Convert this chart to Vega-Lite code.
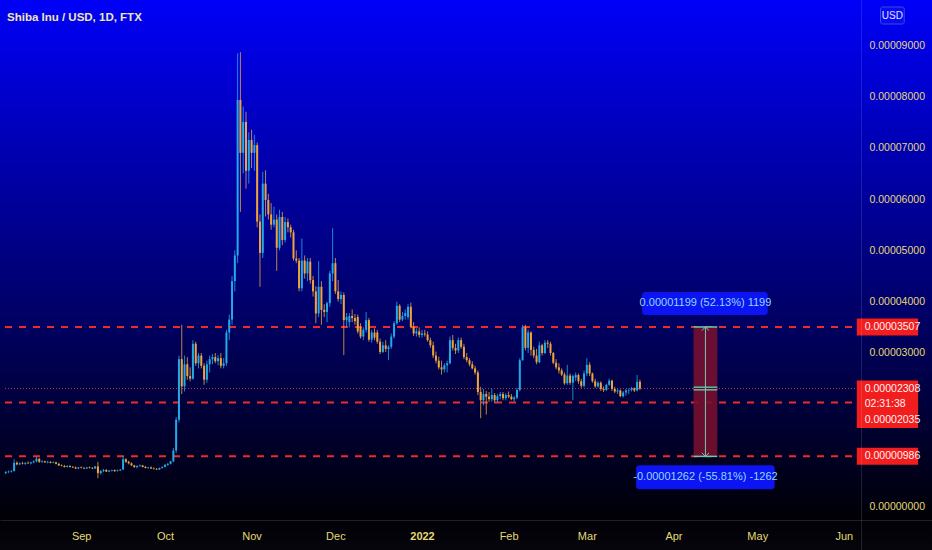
{
"$schema":"https://vega.github.io/schema/vega-lite/v6.json",
"width":932,"height":550,"autosize":{"type":"none"},"padding":0,"background":"#000000",
"title":{"text":"Shiba Inu / USD, 1D, FTX","anchor":"start","frame":"group","offset":-23,"dx":7,"color":"#eee6b5","fontSize":11.5,"fontWeight":"bold","font":"Liberation Sans"},
"config":{"view":{"stroke":null},"font":"Liberation Sans","text":{"font":"Liberation Sans"}},
"datasets":{
"levels":[{"price":0.00003507},{"price":0.00002035},{"price":0.00000986}],
"current":[{"price":0.00002308}],
"tags":[{"price":0.00003507,"label":"0.00003507"},{"price":0.00000986,"label":"0.00000986"}],
"lastTag":[{"price":0.00002308,"level":0.00002035,"label":"0.00002308\n02:31:38\n0.00002035"}],
"measure":[{"start":"2022-04-08T05:00:00Z","end":"2022-04-16T17:00:00Z","mid":"2022-04-12T11:00:00Z","entry":0.00002308,"target":0.00003507,"stop":0.00000986,"upLabel":"0.00001199 (52.13%) 1199","downLabel":"-0.00001262 (-55.81%) -1262"}],
"candles":[
{"date":"2021-08-05","open":0.66e-5,"high":0.70e-5,"low":0.64e-5,"close":0.68e-5},
{"date":"2021-08-06","open":0.68e-5,"high":0.71e-5,"low":0.66e-5,"close":0.69e-5},
{"date":"2021-08-07","open":0.69e-5,"high":0.72e-5,"low":0.67e-5,"close":0.70e-5},
{"date":"2021-08-08","open":0.70e-5,"high":0.93e-5,"low":0.69e-5,"close":0.86e-5},
{"date":"2021-08-09","open":0.86e-5,"high":0.89e-5,"low":0.81e-5,"close":0.83e-5},
{"date":"2021-08-10","open":0.83e-5,"high":0.87e-5,"low":0.82e-5,"close":0.85e-5},
{"date":"2021-08-11","open":0.85e-5,"high":0.88e-5,"low":0.83e-5,"close":0.84e-5},
{"date":"2021-08-12","open":0.84e-5,"high":0.87e-5,"low":0.82e-5,"close":0.86e-5},
{"date":"2021-08-13","open":0.86e-5,"high":0.89e-5,"low":0.84e-5,"close":0.85e-5},
{"date":"2021-08-14","open":0.85e-5,"high":0.88e-5,"low":0.83e-5,"close":0.87e-5},
{"date":"2021-08-15","open":0.87e-5,"high":0.91e-5,"low":0.85e-5,"close":0.89e-5},
{"date":"2021-08-16","open":0.89e-5,"high":0.98e-5,"low":0.87e-5,"close":0.94e-5},
{"date":"2021-08-17","open":0.94e-5,"high":0.95e-5,"low":0.86e-5,"close":0.88e-5},
{"date":"2021-08-18","open":0.88e-5,"high":0.91e-5,"low":0.86e-5,"close":0.89e-5},
{"date":"2021-08-19","open":0.89e-5,"high":0.90e-5,"low":0.86e-5,"close":0.87e-5},
{"date":"2021-08-20","open":0.87e-5,"high":0.90e-5,"low":0.85e-5,"close":0.88e-5},
{"date":"2021-08-21","open":0.88e-5,"high":0.89e-5,"low":0.85e-5,"close":0.86e-5},
{"date":"2021-08-22","open":0.86e-5,"high":0.89e-5,"low":0.85e-5,"close":0.87e-5},
{"date":"2021-08-23","open":0.87e-5,"high":0.88e-5,"low":0.83e-5,"close":0.84e-5},
{"date":"2021-08-24","open":0.84e-5,"high":0.86e-5,"low":0.80e-5,"close":0.81e-5},
{"date":"2021-08-25","open":0.81e-5,"high":0.83e-5,"low":0.79e-5,"close":0.80e-5},
{"date":"2021-08-26","open":0.80e-5,"high":0.82e-5,"low":0.77e-5,"close":0.78e-5},
{"date":"2021-08-27","open":0.78e-5,"high":0.81e-5,"low":0.77e-5,"close":0.80e-5},
{"date":"2021-08-28","open":0.80e-5,"high":0.81e-5,"low":0.77e-5,"close":0.78e-5},
{"date":"2021-08-29","open":0.78e-5,"high":0.80e-5,"low":0.76e-5,"close":0.77e-5},
{"date":"2021-08-30","open":0.77e-5,"high":0.79e-5,"low":0.74e-5,"close":0.75e-5},
{"date":"2021-08-31","open":0.75e-5,"high":0.78e-5,"low":0.74e-5,"close":0.77e-5},
{"date":"2021-09-01","open":0.77e-5,"high":0.79e-5,"low":0.75e-5,"close":0.76e-5},
{"date":"2021-09-02","open":0.76e-5,"high":0.78e-5,"low":0.74e-5,"close":0.75e-5},
{"date":"2021-09-03","open":0.75e-5,"high":0.78e-5,"low":0.74e-5,"close":0.77e-5},
{"date":"2021-09-04","open":0.77e-5,"high":0.79e-5,"low":0.75e-5,"close":0.76e-5},
{"date":"2021-09-05","open":0.76e-5,"high":0.78e-5,"low":0.74e-5,"close":0.75e-5},
{"date":"2021-09-06","open":0.75e-5,"high":0.80e-5,"low":0.74e-5,"close":0.79e-5},
{"date":"2021-09-07","open":0.79e-5,"high":0.88e-5,"low":0.56e-5,"close":0.66e-5},
{"date":"2021-09-08","open":0.66e-5,"high":0.72e-5,"low":0.63e-5,"close":0.70e-5},
{"date":"2021-09-09","open":0.70e-5,"high":0.74e-5,"low":0.68e-5,"close":0.72e-5},
{"date":"2021-09-10","open":0.72e-5,"high":0.74e-5,"low":0.68e-5,"close":0.69e-5},
{"date":"2021-09-11","open":0.69e-5,"high":0.72e-5,"low":0.68e-5,"close":0.71e-5},
{"date":"2021-09-12","open":0.71e-5,"high":0.73e-5,"low":0.69e-5,"close":0.72e-5},
{"date":"2021-09-13","open":0.72e-5,"high":0.73e-5,"low":0.68e-5,"close":0.70e-5},
{"date":"2021-09-14","open":0.70e-5,"high":0.73e-5,"low":0.69e-5,"close":0.71e-5},
{"date":"2021-09-15","open":0.71e-5,"high":0.74e-5,"low":0.70e-5,"close":0.73e-5},
{"date":"2021-09-16","open":0.73e-5,"high":1.00e-5,"low":0.72e-5,"close":0.93e-5},
{"date":"2021-09-17","open":0.93e-5,"high":0.95e-5,"low":0.86e-5,"close":0.88e-5},
{"date":"2021-09-18","open":0.88e-5,"high":0.90e-5,"low":0.83e-5,"close":0.85e-5},
{"date":"2021-09-19","open":0.85e-5,"high":0.87e-5,"low":0.80e-5,"close":0.81e-5},
{"date":"2021-09-20","open":0.81e-5,"high":0.82e-5,"low":0.76e-5,"close":0.78e-5},
{"date":"2021-09-21","open":0.78e-5,"high":0.81e-5,"low":0.75e-5,"close":0.80e-5},
{"date":"2021-09-22","open":0.80e-5,"high":0.83e-5,"low":0.78e-5,"close":0.81e-5},
{"date":"2021-09-23","open":0.81e-5,"high":0.82e-5,"low":0.77e-5,"close":0.78e-5},
{"date":"2021-09-24","open":0.78e-5,"high":0.80e-5,"low":0.75e-5,"close":0.76e-5},
{"date":"2021-09-25","open":0.76e-5,"high":0.78e-5,"low":0.74e-5,"close":0.77e-5},
{"date":"2021-09-26","open":0.77e-5,"high":0.79e-5,"low":0.74e-5,"close":0.75e-5},
{"date":"2021-09-27","open":0.75e-5,"high":0.77e-5,"low":0.73e-5,"close":0.74e-5},
{"date":"2021-09-28","open":0.74e-5,"high":0.76e-5,"low":0.72e-5,"close":0.73e-5},
{"date":"2021-09-29","open":0.73e-5,"high":0.77e-5,"low":0.72e-5,"close":0.76e-5},
{"date":"2021-09-30","open":0.76e-5,"high":0.79e-5,"low":0.75e-5,"close":0.78e-5},
{"date":"2021-10-01","open":0.78e-5,"high":0.84e-5,"low":0.77e-5,"close":0.82e-5},
{"date":"2021-10-02","open":0.82e-5,"high":0.86e-5,"low":0.80e-5,"close":0.84e-5},
{"date":"2021-10-03","open":0.84e-5,"high":0.90e-5,"low":0.83e-5,"close":0.89e-5},
{"date":"2021-10-04","open":0.89e-5,"high":1.15e-5,"low":0.87e-5,"close":1.10e-5},
{"date":"2021-10-05","open":1.10e-5,"high":1.75e-5,"low":1.05e-5,"close":1.70e-5},
{"date":"2021-10-06","open":1.70e-5,"high":2.95e-5,"low":1.65e-5,"close":2.88e-5},
{"date":"2021-10-07","open":2.88e-5,"high":3.55e-5,"low":2.20e-5,"close":2.35e-5},
{"date":"2021-10-08","open":2.35e-5,"high":2.95e-5,"low":2.25e-5,"close":2.78e-5},
{"date":"2021-10-09","open":2.78e-5,"high":2.92e-5,"low":2.48e-5,"close":2.55e-5},
{"date":"2021-10-10","open":2.55e-5,"high":2.72e-5,"low":2.45e-5,"close":2.50e-5},
{"date":"2021-10-11","open":2.50e-5,"high":3.25e-5,"low":2.48e-5,"close":3.18e-5},
{"date":"2021-10-12","open":3.18e-5,"high":3.22e-5,"low":2.75e-5,"close":2.80e-5},
{"date":"2021-10-13","open":2.80e-5,"high":3.00e-5,"low":2.70e-5,"close":2.95e-5},
{"date":"2021-10-14","open":2.95e-5,"high":3.00e-5,"low":2.70e-5,"close":2.75e-5},
{"date":"2021-10-15","open":2.75e-5,"high":2.80e-5,"low":2.38e-5,"close":2.48e-5},
{"date":"2021-10-16","open":2.48e-5,"high":2.85e-5,"low":2.42e-5,"close":2.78e-5},
{"date":"2021-10-17","open":2.78e-5,"high":2.95e-5,"low":2.62e-5,"close":2.88e-5},
{"date":"2021-10-18","open":2.88e-5,"high":2.98e-5,"low":2.78e-5,"close":2.92e-5},
{"date":"2021-10-19","open":2.92e-5,"high":3.00e-5,"low":2.80e-5,"close":2.84e-5},
{"date":"2021-10-20","open":2.84e-5,"high":2.96e-5,"low":2.76e-5,"close":2.90e-5},
{"date":"2021-10-21","open":2.90e-5,"high":3.00e-5,"low":2.70e-5,"close":2.75e-5},
{"date":"2021-10-22","open":2.75e-5,"high":2.90e-5,"low":2.70e-5,"close":2.80e-5},
{"date":"2021-10-23","open":2.80e-5,"high":3.45e-5,"low":2.75e-5,"close":3.40e-5},
{"date":"2021-10-24","open":3.40e-5,"high":3.75e-5,"low":3.25e-5,"close":3.65e-5},
{"date":"2021-10-25","open":3.65e-5,"high":4.50e-5,"low":3.55e-5,"close":4.40e-5},
{"date":"2021-10-26","open":4.40e-5,"high":5.00e-5,"low":4.20e-5,"close":4.90e-5},
{"date":"2021-10-27","open":4.90e-5,"high":8.84e-5,"low":4.75e-5,"close":7.93e-5},
{"date":"2021-10-28","open":7.93e-5,"high":8.86e-5,"low":5.75e-5,"close":6.90e-5},
{"date":"2021-10-29","open":6.90e-5,"high":7.80e-5,"low":6.50e-5,"close":7.50e-5},
{"date":"2021-10-30","open":7.50e-5,"high":7.70e-5,"low":6.20e-5,"close":6.55e-5},
{"date":"2021-10-31","open":6.55e-5,"high":7.30e-5,"low":6.30e-5,"close":7.15e-5},
{"date":"2021-11-01","open":7.15e-5,"high":7.35e-5,"low":6.60e-5,"close":6.90e-5},
{"date":"2021-11-02","open":6.90e-5,"high":7.25e-5,"low":6.55e-5,"close":7.05e-5},
{"date":"2021-11-03","open":7.05e-5,"high":7.10e-5,"low":5.45e-5,"close":5.56e-5},
{"date":"2021-11-04","open":5.56e-5,"high":5.70e-5,"low":4.29e-5,"close":4.95e-5},
{"date":"2021-11-05","open":4.95e-5,"high":6.53e-5,"low":4.85e-5,"close":6.30e-5},
{"date":"2021-11-06","open":6.30e-5,"high":6.56e-5,"low":5.66e-5,"close":5.98e-5},
{"date":"2021-11-07","open":5.98e-5,"high":6.10e-5,"low":5.60e-5,"close":5.70e-5},
{"date":"2021-11-08","open":5.70e-5,"high":5.92e-5,"low":5.40e-5,"close":5.50e-5},
{"date":"2021-11-09","open":5.50e-5,"high":5.85e-5,"low":5.45e-5,"close":5.60e-5},
{"date":"2021-11-10","open":5.60e-5,"high":5.70e-5,"low":4.60e-5,"close":5.05e-5},
{"date":"2021-11-11","open":5.05e-5,"high":5.79e-5,"low":5.00e-5,"close":5.65e-5},
{"date":"2021-11-12","open":5.65e-5,"high":5.75e-5,"low":5.10e-5,"close":5.20e-5},
{"date":"2021-11-13","open":5.20e-5,"high":5.65e-5,"low":5.15e-5,"close":5.55e-5},
{"date":"2021-11-14","open":5.55e-5,"high":5.62e-5,"low":5.35e-5,"close":5.45e-5},
{"date":"2021-11-15","open":5.45e-5,"high":5.50e-5,"low":5.25e-5,"close":5.35e-5},
{"date":"2021-11-16","open":5.35e-5,"high":5.40e-5,"low":4.80e-5,"close":4.84e-5},
{"date":"2021-11-17","open":4.84e-5,"high":5.00e-5,"low":4.75e-5,"close":4.80e-5},
{"date":"2021-11-18","open":4.80e-5,"high":4.85e-5,"low":4.20e-5,"close":4.26e-5},
{"date":"2021-11-19","open":4.26e-5,"high":5.23e-5,"low":4.20e-5,"close":4.80e-5},
{"date":"2021-11-20","open":4.80e-5,"high":4.90e-5,"low":4.45e-5,"close":4.55e-5},
{"date":"2021-11-21","open":4.55e-5,"high":4.85e-5,"low":4.40e-5,"close":4.78e-5},
{"date":"2021-11-22","open":4.78e-5,"high":4.85e-5,"low":4.35e-5,"close":4.42e-5},
{"date":"2021-11-23","open":4.42e-5,"high":4.50e-5,"low":4.10e-5,"close":4.20e-5},
{"date":"2021-11-24","open":4.20e-5,"high":4.30e-5,"low":3.58e-5,"close":3.77e-5},
{"date":"2021-11-25","open":3.77e-5,"high":4.79e-5,"low":3.70e-5,"close":4.29e-5},
{"date":"2021-11-26","open":4.29e-5,"high":4.40e-5,"low":3.55e-5,"close":3.84e-5},
{"date":"2021-11-27","open":3.84e-5,"high":3.95e-5,"low":3.70e-5,"close":3.80e-5},
{"date":"2021-11-28","open":3.80e-5,"high":4.00e-5,"low":3.60e-5,"close":3.97e-5},
{"date":"2021-11-29","open":3.97e-5,"high":4.60e-5,"low":3.90e-5,"close":4.55e-5},
{"date":"2021-11-30","open":4.55e-5,"high":5.43e-5,"low":4.40e-5,"close":4.75e-5},
{"date":"2021-12-01","open":4.75e-5,"high":4.85e-5,"low":4.15e-5,"close":4.20e-5},
{"date":"2021-12-02","open":4.20e-5,"high":4.42e-5,"low":4.00e-5,"close":4.05e-5},
{"date":"2021-12-03","open":4.05e-5,"high":4.20e-5,"low":3.95e-5,"close":4.13e-5},
{"date":"2021-12-04","open":4.13e-5,"high":4.18e-5,"low":2.96e-5,"close":3.64e-5},
{"date":"2021-12-05","open":3.64e-5,"high":3.78e-5,"low":3.50e-5,"close":3.70e-5},
{"date":"2021-12-06","open":3.60e-5,"high":3.78e-5,"low":3.50e-5,"close":3.72e-5},
{"date":"2021-12-07","open":3.72e-5,"high":3.85e-5,"low":3.60e-5,"close":3.68e-5},
{"date":"2021-12-08","open":3.68e-5,"high":3.76e-5,"low":3.55e-5,"close":3.62e-5},
{"date":"2021-12-09","open":3.70e-5,"high":3.75e-5,"low":3.38e-5,"close":3.42e-5},
{"date":"2021-12-10","open":3.50e-5,"high":3.58e-5,"low":3.28e-5,"close":3.32e-5},
{"date":"2021-12-11","open":3.32e-5,"high":3.50e-5,"low":3.25e-5,"close":3.45e-5},
{"date":"2021-12-12","open":3.45e-5,"high":3.80e-5,"low":3.40e-5,"close":3.64e-5},
{"date":"2021-12-13","open":3.64e-5,"high":3.68e-5,"low":3.22e-5,"close":3.26e-5},
{"date":"2021-12-14","open":3.26e-5,"high":3.45e-5,"low":3.20e-5,"close":3.40e-5},
{"date":"2021-12-15","open":3.40e-5,"high":3.48e-5,"low":3.25e-5,"close":3.30e-5},
{"date":"2021-12-16","open":3.40e-5,"high":3.45e-5,"low":3.18e-5,"close":3.22e-5},
{"date":"2021-12-17","open":3.22e-5,"high":3.28e-5,"low":2.98e-5,"close":3.02e-5},
{"date":"2021-12-18","open":3.02e-5,"high":3.22e-5,"low":3.00e-5,"close":3.15e-5},
{"date":"2021-12-19","open":3.15e-5,"high":3.25e-5,"low":3.02e-5,"close":3.08e-5},
{"date":"2021-12-20","open":3.08e-5,"high":3.15e-5,"low":2.86e-5,"close":3.12e-5},
{"date":"2021-12-21","open":3.12e-5,"high":3.38e-5,"low":3.08e-5,"close":3.32e-5},
{"date":"2021-12-22","open":3.32e-5,"high":3.62e-5,"low":3.28e-5,"close":3.58e-5},
{"date":"2021-12-23","open":3.58e-5,"high":4.00e-5,"low":3.55e-5,"close":3.92e-5},
{"date":"2021-12-24","open":3.92e-5,"high":3.95e-5,"low":3.60e-5,"close":3.65e-5},
{"date":"2021-12-25","open":3.65e-5,"high":3.80e-5,"low":3.62e-5,"close":3.72e-5},
{"date":"2021-12-26","open":3.72e-5,"high":3.85e-5,"low":3.65e-5,"close":3.78e-5},
{"date":"2021-12-27","open":3.70e-5,"high":3.95e-5,"low":3.65e-5,"close":3.90e-5},
{"date":"2021-12-28","open":3.90e-5,"high":3.98e-5,"low":3.48e-5,"close":3.51e-5},
{"date":"2021-12-29","open":3.51e-5,"high":3.60e-5,"low":3.33e-5,"close":3.38e-5},
{"date":"2021-12-30","open":3.38e-5,"high":3.48e-5,"low":3.32e-5,"close":3.42e-5},
{"date":"2021-12-31","open":3.42e-5,"high":3.50e-5,"low":3.30e-5,"close":3.35e-5},
{"date":"2022-01-01","open":3.35e-5,"high":3.45e-5,"low":3.30e-5,"close":3.38e-5},
{"date":"2022-01-02","open":3.38e-5,"high":3.45e-5,"low":3.32e-5,"close":3.36e-5},
{"date":"2022-01-03","open":3.36e-5,"high":3.42e-5,"low":3.22e-5,"close":3.25e-5},
{"date":"2022-01-04","open":3.25e-5,"high":3.30e-5,"low":3.10e-5,"close":3.15e-5},
{"date":"2022-01-05","open":3.15e-5,"high":3.22e-5,"low":2.90e-5,"close":2.95e-5},
{"date":"2022-01-06","open":2.95e-5,"high":3.03e-5,"low":2.80e-5,"close":2.85e-5},
{"date":"2022-01-07","open":2.85e-5,"high":2.93e-5,"low":2.68e-5,"close":2.72e-5},
{"date":"2022-01-08","open":2.72e-5,"high":2.85e-5,"low":2.58e-5,"close":2.68e-5},
{"date":"2022-01-09","open":2.68e-5,"high":2.80e-5,"low":2.62e-5,"close":2.76e-5},
{"date":"2022-01-10","open":2.76e-5,"high":2.85e-5,"low":2.62e-5,"close":2.80e-5},
{"date":"2022-01-11","open":2.80e-5,"high":3.32e-5,"low":2.78e-5,"close":3.25e-5},
{"date":"2022-01-12","open":3.25e-5,"high":3.35e-5,"low":3.05e-5,"close":3.10e-5},
{"date":"2022-01-13","open":3.10e-5,"high":3.18e-5,"low":2.98e-5,"close":3.05e-5},
{"date":"2022-01-14","open":3.05e-5,"high":3.30e-5,"low":3.00e-5,"close":3.25e-5},
{"date":"2022-01-15","open":3.25e-5,"high":3.30e-5,"low":3.08e-5,"close":3.12e-5},
{"date":"2022-01-16","open":3.12e-5,"high":3.18e-5,"low":2.88e-5,"close":2.92e-5},
{"date":"2022-01-17","open":2.92e-5,"high":3.00e-5,"low":2.82e-5,"close":2.86e-5},
{"date":"2022-01-18","open":2.86e-5,"high":2.90e-5,"low":2.74e-5,"close":2.78e-5},
{"date":"2022-01-19","open":2.78e-5,"high":2.84e-5,"low":2.68e-5,"close":2.70e-5},
{"date":"2022-01-20","open":2.70e-5,"high":2.75e-5,"low":2.58e-5,"close":2.62e-5},
{"date":"2022-01-21","open":2.62e-5,"high":2.66e-5,"low":2.18e-5,"close":2.24e-5},
{"date":"2022-01-22","open":2.24e-5,"high":2.34e-5,"low":1.73e-5,"close":2.08e-5},
{"date":"2022-01-23","open":2.08e-5,"high":2.30e-5,"low":1.98e-5,"close":2.20e-5},
{"date":"2022-01-24","open":2.20e-5,"high":2.26e-5,"low":1.80e-5,"close":2.15e-5},
{"date":"2022-01-25","open":2.15e-5,"high":2.24e-5,"low":2.05e-5,"close":2.10e-5},
{"date":"2022-01-26","open":2.10e-5,"high":2.30e-5,"low":2.05e-5,"close":2.18e-5},
{"date":"2022-01-27","open":2.18e-5,"high":2.22e-5,"low":2.02e-5,"close":2.08e-5},
{"date":"2022-01-28","open":2.08e-5,"high":2.20e-5,"low":2.03e-5,"close":2.16e-5},
{"date":"2022-01-29","open":2.16e-5,"high":2.24e-5,"low":2.10e-5,"close":2.20e-5},
{"date":"2022-01-30","open":2.20e-5,"high":2.24e-5,"low":2.08e-5,"close":2.12e-5},
{"date":"2022-01-31","open":2.12e-5,"high":2.22e-5,"low":2.08e-5,"close":2.18e-5},
{"date":"2022-02-01","open":2.18e-5,"high":2.25e-5,"low":2.12e-5,"close":2.15e-5},
{"date":"2022-02-02","open":2.15e-5,"high":2.20e-5,"low":2.08e-5,"close":2.10e-5},
{"date":"2022-02-03","open":2.10e-5,"high":2.16e-5,"low":2.05e-5,"close":2.13e-5},
{"date":"2022-02-04","open":2.13e-5,"high":2.32e-5,"low":2.10e-5,"close":2.28e-5},
{"date":"2022-02-05","open":2.28e-5,"high":2.90e-5,"low":2.25e-5,"close":2.86e-5},
{"date":"2022-02-06","open":2.86e-5,"high":3.55e-5,"low":2.85e-5,"close":3.50e-5},
{"date":"2022-02-07","open":3.50e-5,"high":3.55e-5,"low":3.05e-5,"close":3.10e-5},
{"date":"2022-02-08","open":3.10e-5,"high":3.45e-5,"low":3.00e-5,"close":3.40e-5},
{"date":"2022-02-09","open":3.40e-5,"high":3.42e-5,"low":2.95e-5,"close":3.06e-5},
{"date":"2022-02-10","open":3.06e-5,"high":3.12e-5,"low":2.90e-5,"close":2.95e-5},
{"date":"2022-02-11","open":2.95e-5,"high":3.08e-5,"low":2.78e-5,"close":2.82e-5},
{"date":"2022-02-12","open":2.82e-5,"high":3.22e-5,"low":2.80e-5,"close":3.15e-5},
{"date":"2022-02-13","open":3.15e-5,"high":3.18e-5,"low":2.95e-5,"close":3.00e-5},
{"date":"2022-02-14","open":3.00e-5,"high":3.25e-5,"low":2.98e-5,"close":3.20e-5},
{"date":"2022-02-15","open":3.20e-5,"high":3.25e-5,"low":3.10e-5,"close":3.18e-5},
{"date":"2022-02-16","open":3.18e-5,"high":3.22e-5,"low":2.95e-5,"close":3.00e-5},
{"date":"2022-02-17","open":3.00e-5,"high":3.02e-5,"low":2.78e-5,"close":2.81e-5},
{"date":"2022-02-18","open":2.81e-5,"high":2.88e-5,"low":2.68e-5,"close":2.72e-5},
{"date":"2022-02-19","open":2.72e-5,"high":2.80e-5,"low":2.60e-5,"close":2.66e-5},
{"date":"2022-02-20","open":2.66e-5,"high":2.70e-5,"low":2.55e-5,"close":2.58e-5},
{"date":"2022-02-21","open":2.58e-5,"high":2.62e-5,"low":2.38e-5,"close":2.41e-5},
{"date":"2022-02-22","open":2.41e-5,"high":2.77e-5,"low":2.38e-5,"close":2.56e-5},
{"date":"2022-02-23","open":2.56e-5,"high":2.60e-5,"low":2.38e-5,"close":2.42e-5},
{"date":"2022-02-24","open":2.42e-5,"high":2.58e-5,"low":2.08e-5,"close":2.55e-5},
{"date":"2022-02-25","open":2.52e-5,"high":2.62e-5,"low":2.45e-5,"close":2.57e-5},
{"date":"2022-02-26","open":2.57e-5,"high":2.60e-5,"low":2.40e-5,"close":2.45e-5},
{"date":"2022-02-27","open":2.45e-5,"high":2.50e-5,"low":2.32e-5,"close":2.36e-5},
{"date":"2022-02-28","open":2.36e-5,"high":2.66e-5,"low":2.33e-5,"close":2.60e-5},
{"date":"2022-03-01","open":2.60e-5,"high":2.90e-5,"low":2.55e-5,"close":2.77e-5},
{"date":"2022-03-02","open":2.77e-5,"high":2.82e-5,"low":2.55e-5,"close":2.60e-5},
{"date":"2022-03-03","open":2.60e-5,"high":2.62e-5,"low":2.42e-5,"close":2.45e-5},
{"date":"2022-03-04","open":2.45e-5,"high":2.50e-5,"low":2.32e-5,"close":2.35e-5},
{"date":"2022-03-05","open":2.35e-5,"high":2.45e-5,"low":2.32e-5,"close":2.42e-5},
{"date":"2022-03-06","open":2.42e-5,"high":2.45e-5,"low":2.26e-5,"close":2.30e-5},
{"date":"2022-03-07","open":2.30e-5,"high":2.35e-5,"low":2.24e-5,"close":2.28e-5},
{"date":"2022-03-08","open":2.28e-5,"high":2.40e-5,"low":2.26e-5,"close":2.38e-5},
{"date":"2022-03-09","open":2.38e-5,"high":2.50e-5,"low":2.36e-5,"close":2.46e-5},
{"date":"2022-03-10","open":2.46e-5,"high":2.48e-5,"low":2.26e-5,"close":2.30e-5},
{"date":"2022-03-11","open":2.30e-5,"high":2.34e-5,"low":2.22e-5,"close":2.25e-5},
{"date":"2022-03-12","open":2.25e-5,"high":2.30e-5,"low":2.20e-5,"close":2.27e-5},
{"date":"2022-03-13","open":2.27e-5,"high":2.29e-5,"low":2.14e-5,"close":2.16e-5},
{"date":"2022-03-14","open":2.16e-5,"high":2.26e-5,"low":2.13e-5,"close":2.23e-5},
{"date":"2022-03-15","open":2.23e-5,"high":2.30e-5,"low":2.17e-5,"close":2.27e-5},
{"date":"2022-03-16","open":2.27e-5,"high":2.31e-5,"low":2.20e-5,"close":2.28e-5},
{"date":"2022-03-17","open":2.28e-5,"high":2.34e-5,"low":2.25e-5,"close":2.31e-5},
{"date":"2022-03-18","open":2.31e-5,"high":2.33e-5,"low":2.24e-5,"close":2.27e-5},
{"date":"2022-03-19","open":2.27e-5,"high":2.57e-5,"low":2.25e-5,"close":2.44e-5},
{"date":"2022-03-20","open":2.44e-5,"high":2.48e-5,"low":2.28e-5,"close":2.308e-5}
]},
"layer":[
{"data":{"values":[{}]},"mark":{"type":"rect","fill":{"gradient":"linear","x1":0,"y1":0,"x2":0,"y2":1,"stops":[{"offset":0,"color":"#0000f8"},{"offset":0.945,"color":"#000006"},{"offset":1,"color":"#05050b"}]}},"encoding":{}},
{"data":{"name":"current"},"mark":{"type":"rule","color":"#d43a3a","strokeDash":[1,2],"strokeWidth":1,"opacity":0.9},
 "encoding":{"x":{"datum":1628098592635,"type":"temporal"},"x2":{"datum":1654440802266},"y":{"field":"price","type":"quantitative"}}},
{"data":{"name":"levels"},"mark":{"type":"rule","color":"#ee2b2b","strokeDash":[7,7],"strokeWidth":2},
 "encoding":{"x":{"datum":1628098592635,"type":"temporal"},"x2":{"datum":1654440802266},"y":{"field":"price","type":"quantitative"}}},
{"data":{"name":"measure"},"mark":{"type":"rect","fill":"#761030","opacity":0.9},
 "encoding":{"x":{"field":"start","type":"temporal"},"x2":{"field":"end"},"y":{"field":"target","type":"quantitative"},"y2":{"field":"stop"}}},
{"data":{"name":"measure"},"mark":{"type":"rule","color":"#5fcfae","strokeWidth":1.5},
 "encoding":{"x":{"field":"start","type":"temporal"},"x2":{"field":"end"},"y":{"field":"target","type":"quantitative"}}},
{"data":{"name":"measure"},"mark":{"type":"rule","color":"#5fcfae","strokeWidth":1.5},
 "encoding":{"x":{"field":"start","type":"temporal"},"x2":{"field":"end"},"y":{"field":"stop","type":"quantitative"}}},
{"data":{"name":"measure"},"mark":{"type":"rule","color":"#5fcfae","strokeWidth":4},
 "encoding":{"x":{"field":"start","type":"temporal"},"x2":{"field":"end"},"y":{"field":"entry","type":"quantitative"}}},
{"data":{"name":"measure"},"mark":{"type":"rule","color":"#5a0c26","strokeWidth":1.3},
 "encoding":{"x":{"field":"start","type":"temporal"},"x2":{"field":"end"},"y":{"field":"entry","type":"quantitative"}}},
{"data":{"name":"measure"},"mark":{"type":"rule","color":"#7fc4b0","strokeWidth":1},
 "encoding":{"x":{"field":"mid","type":"temporal"},"y":{"field":"stop","type":"quantitative"},"y2":{"field":"target"}}},
{"data":{"name":"measure"},"mark":{"type":"point","shape":"M-1,1L0,0L1,1","filled":false,"stroke":"#7fc4b0","strokeWidth":1,"size":50,"opacity":1},
 "encoding":{"x":{"field":"mid","type":"temporal"},"y":{"field":"target","type":"quantitative"}}},
{"data":{"name":"measure"},"mark":{"type":"point","shape":"M-1,-1L0,0L1,-1","filled":false,"stroke":"#7fc4b0","strokeWidth":1,"size":50,"opacity":1},
 "encoding":{"x":{"field":"mid","type":"temporal"},"y":{"field":"stop","type":"quantitative"}}},
{"data":{"name":"measure"},"mark":{"type":"rect","fill":"#0c14f2","cornerRadius":3,"yOffset":-35,"y2Offset":-12},
 "encoding":{"x":{"datum":1647801708782,"type":"temporal"},"x2":{"datum":1651687261190},"y":{"field":"target","type":"quantitative"},"y2":{"field":"target"}}},
{"data":{"name":"measure"},"mark":{"type":"text","color":"#8fd8ff","fontSize":11,"align":"center","baseline":"middle","dy":-23.5},
 "encoding":{"x":{"field":"mid","type":"temporal"},"y":{"field":"target","type":"quantitative"},"text":{"field":"upLabel"}}},
{"data":{"name":"measure"},"mark":{"type":"rect","fill":"#0c14f2","cornerRadius":3,"yOffset":9,"y2Offset":33},
 "encoding":{"x":{"datum":1647618139377,"type":"temporal"},"x2":{"datum":1651901425496},"y":{"field":"stop","type":"quantitative"},"y2":{"field":"stop"}}},
{"data":{"name":"measure"},"mark":{"type":"text","color":"#8fd8ff","fontSize":11,"align":"center","baseline":"middle","dy":21},
 "encoding":{"x":{"field":"mid","type":"temporal"},"y":{"field":"stop","type":"quantitative"},"text":{"field":"downLabel"}}},
{"data":{"name":"candles"},"mark":{"type":"rule","strokeWidth":1,"opacity":0.8},
 "encoding":{
  "x":{"field":"date","type":"temporal","scale":{"type":"utc","domain":[1628098592635,1656613040227]},
   "axis":{"orient":"bottom","offset":-30,"values":[1630454400000,1633046400000,1635724800000,1638316800000,1640995200000,1643673600000,1646092800000,1648771200000,1651363200000,1654041600000],
    "labelExpr":"utcmonth(datum.value)==0 ? utcFormat(datum.value,'%Y') : utcFormat(datum.value,'%b')",
    "labelFontWeight":{"condition":{"test":"utcmonth(datum.value)==0","value":"bold"},"value":"normal"},
    "ticks":false,"grid":false,"domainColor":"#ffffff","domainOpacity":0.12,"labelColor":"#e3da74","labelFontSize":11,"labelPadding":10,"title":null,"zindex":1,"labelOverlap":false,"labelFlush":false,"labelFont":"Liberation Sans"}},
  "y":{"field":"low","type":"quantitative","scale":{"domain":[-0.00000838,0.00009877],"nice":false,"zero":false},
   "axis":{"orient":"right","offset":-71,"values":[0,0.00003,0.00004,0.00005,0.00006,0.00007,0.00008,0.00009],"format":".8f","ticks":false,"grid":false,"labelPadding":8,"labelAlign":"left","labelColor":"#e3da74","labelFontSize":10.5,"domainColor":"#ffffff","domainOpacity":0.12,"title":null,"zindex":1,"labelOverlap":false,"labelBound":false,"labelFlush":false,"labelFont":"Liberation Sans"}},
  "y2":{"field":"high"},
  "color":{"condition":{"test":"datum.close >= datum.open","value":"#22a9e6"},"value":"#efa43a"}}},
{"data":{"name":"candles"},"mark":{"type":"bar","width":2},
 "encoding":{"x":{"field":"date","type":"temporal"},"y":{"field":"open","type":"quantitative"},"y2":{"field":"close"},
  "color":{"condition":{"test":"datum.close >= datum.open","value":"#22a9e6"},"value":"#efa43a"}}},
{"data":{"name":"tags"},"mark":{"type":"rect","fill":"#f21d1d","yOffset":-8.5,"y2Offset":8.5},
 "encoding":{"x":{"datum":1654440802266,"type":"temporal"},"x2":{"datum":1656337686119},"y":{"field":"price","type":"quantitative"},"y2":{"field":"price"}}},
{"data":{"name":"tags"},"mark":{"type":"text","align":"left","baseline":"middle","dx":8,"color":"#fff2f2","fontSize":10.5},
 "encoding":{"x":{"datum":1654440802266,"type":"temporal"},"y":{"field":"price","type":"quantitative"},"text":{"field":"label"}}},
{"data":{"name":"lastTag"},"mark":{"type":"rect","fill":"#f21d1d","yOffset":-8,"y2Offset":25.5},
 "encoding":{"x":{"datum":1654440802266,"type":"temporal"},"x2":{"datum":1656337686119},"y":{"field":"price","type":"quantitative"},"y2":{"field":"level"}}},
{"data":{"name":"lastTag"},"mark":{"type":"text","align":"left","baseline":"middle","dx":8,"lineHeight":15.5,"lineBreak":"\n","color":"#fff2f2","fontSize":10.5},
 "encoding":{"x":{"datum":1654440802266,"type":"temporal"},"y":{"field":"price","type":"quantitative"},"text":{"field":"label"}}},
{"data":{"values":[{"unit":"USD"}]},"mark":{"type":"rect","fill":"#0a0af6","stroke":"#3a4ad8","strokeWidth":1,"cornerRadius":2,"yOffset":-8.5,"y2Offset":8.5},
 "encoding":{"x":{"datum":1655175079887,"type":"temporal"},"x2":{"datum":1655909357507},"y":{"datum":0.00009575,"type":"quantitative"},"y2":{"datum":0.00009575}}},
{"data":{"values":[{"unit":"USD"}]},"mark":{"type":"text","align":"center","baseline":"middle","color":"#e4e4ff","fontSize":10},
 "encoding":{"x":{"datum":1655542218697,"type":"temporal"},"y":{"datum":0.00009575,"type":"quantitative"},"text":{"field":"unit"}}}
]
}
